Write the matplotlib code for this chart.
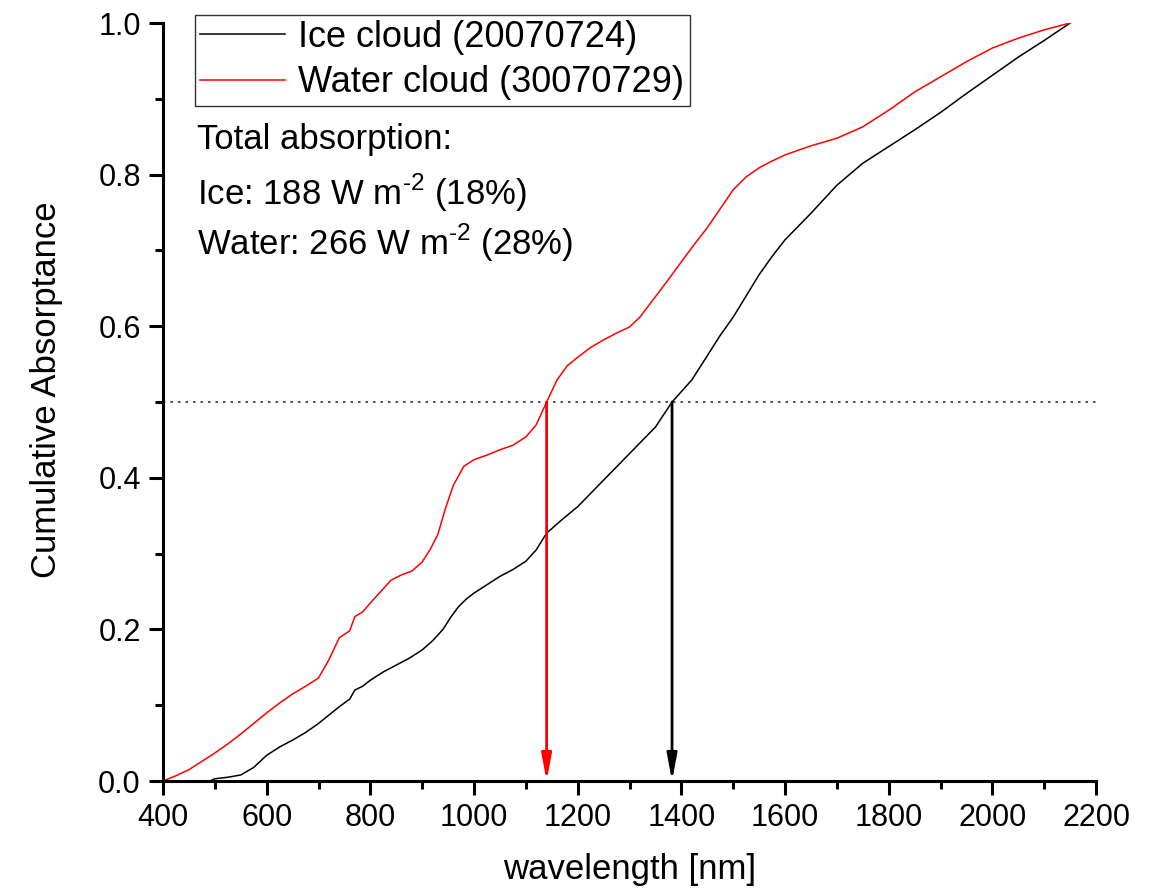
import numpy as np
import matplotlib
matplotlib.use("Agg")
from matplotlib import pyplot as plt
from matplotlib.ticker import MultipleLocator

plt.rcParams['font.family'] = ['Liberation Sans', 'DejaVu Sans']
plt.rcParams['mathtext.fontset'] = 'custom'
plt.rcParams['mathtext.rm'] = 'Liberation Sans'

# ice cloud (20070724)
ice_wl = [400, 450, 490, 500, 525, 550, 575, 600, 625, 650, 675, 700, 720, 740, 760,
          770, 785, 800, 825, 850, 875, 900, 920, 940, 955, 970, 985, 1000, 1025,
          1050, 1075, 1100, 1120, 1140, 1170, 1200, 1250, 1300, 1350, 1382, 1420,
          1449, 1475, 1500, 1525, 1550, 1575, 1600, 1650, 1700, 1750, 1800, 1850,
          1900, 1950, 2000, 2050, 2100, 2150]
ice_val = [0.0, 0.0, 0.0, 0.003, 0.005, 0.008, 0.018, 0.034, 0.045, 0.054, 0.064,
           0.076, 0.087, 0.098, 0.108, 0.12, 0.125, 0.133, 0.144, 0.153, 0.162,
           0.173, 0.185, 0.2, 0.216, 0.23, 0.24, 0.248, 0.259, 0.27, 0.279, 0.29,
           0.305, 0.327, 0.345, 0.362, 0.397, 0.432, 0.467, 0.5, 0.529, 0.56,
           0.588, 0.612, 0.64, 0.668, 0.692, 0.714, 0.749, 0.786, 0.815, 0.837,
           0.859, 0.882, 0.907, 0.931, 0.955, 0.977, 1.0]

# water cloud (30070729)
water_wl = [400, 425, 450, 475, 500, 525, 550, 575, 600, 625, 650, 675, 700, 720,
            740, 760, 770, 785, 800, 820, 840, 860, 880, 900, 915, 930, 945, 960,
            980, 1000, 1025, 1050, 1075, 1100, 1120, 1140, 1160, 1180, 1200, 1225,
            1250, 1275, 1300, 1320, 1340, 1370, 1400, 1425, 1450, 1475, 1500, 1525,
            1550, 1575, 1600, 1650, 1700, 1750, 1800, 1850, 1900, 1950, 2000, 2050,
            2100, 2150]
water_val = [0.0, 0.007, 0.015, 0.026, 0.037, 0.049, 0.062, 0.076, 0.09, 0.103,
             0.115, 0.125, 0.136, 0.16, 0.189, 0.198, 0.217, 0.223, 0.235, 0.25,
             0.265, 0.272, 0.277, 0.289, 0.305, 0.325, 0.36, 0.39, 0.415, 0.424,
             0.43, 0.437, 0.443, 0.454, 0.47, 0.5, 0.529, 0.548, 0.559, 0.572,
             0.582, 0.591, 0.599, 0.612, 0.63, 0.657, 0.685, 0.708, 0.73, 0.755,
             0.78, 0.797, 0.809, 0.818, 0.826, 0.838, 0.848, 0.863, 0.885, 0.909,
             0.929, 0.949, 0.967, 0.98, 0.991, 1.0]

half_level = 0.5
water_half = 1140
ice_half = 1382

fig = plt.figure(figsize=(11.53, 8.92), dpi=100)
ax = fig.add_axes([0.1414, 0.1244, 0.8092, 0.8498])

ax.plot(ice_wl, ice_val, color='black', lw=1.1, label='Ice cloud (20070724)')
ax.plot(water_wl, water_val, color='red', lw=1.1, label='Water cloud (30070729)')

ax.axhline(half_level, color='#333333', lw=1.2, ls=(0, (1.5, 3)))

for wl, c in [(water_half, 'red'), (ice_half, 'black')]:
    ax.annotate('', xy=(wl, 0), xytext=(wl, half_level),
                arrowprops=dict(arrowstyle='-|>,head_width=0.3,head_length=1.6',
                                color=c, lw=2, shrinkA=0, shrinkB=0))

ax.set_xlim(400, 2200)
ax.set_ylim(0, 1.0)
ax.xaxis.set_major_locator(MultipleLocator(200))
ax.xaxis.set_minor_locator(MultipleLocator(100))
ax.yaxis.set_major_locator(MultipleLocator(0.2))
ax.yaxis.set_minor_locator(MultipleLocator(0.1))
ax.yaxis.set_major_formatter(matplotlib.ticker.FormatStrFormatter('%.1f'))

for s in ['top', 'right']:
    ax.spines[s].set_visible(False)
for s in ['left', 'bottom']:
    ax.spines[s].set_linewidth(2.2)
ax.tick_params(which='major', direction='out', length=10, width=2.2, labelsize=22,
               pad=6)
ax.tick_params(which='minor', direction='out', length=6, width=2.2)

ax.set_xlabel('wavelength [nm]', fontsize=25, labelpad=14)
ax.set_ylabel('Cumulative Absorptance', fontsize=25)
ax.yaxis.set_label_coords(-0.107, 0.516)

leg = ax.legend(loc='upper left', bbox_to_anchor=(0.034, 1.011), fontsize=26,
                frameon=True, fancybox=False, edgecolor='black', handlelength=2.36,
                borderpad=0.15, labelspacing=0.28, handletextpad=0.36,
                borderaxespad=0)
leg.get_frame().set_linewidth(1)

ax.text(0.036, 0.846, 'Total absorption:', transform=ax.transAxes, fontsize=25,
        va='center')
ax.text(0.036, 0.776, r'Ice: 188 W m$^{\text{-2}}$ (18%)', transform=ax.transAxes,
        fontsize=25, va='center')
ax.text(0.036, 0.710, r'Water: 266 W m$^{\text{-2}}$ (28%)', transform=ax.transAxes,
        fontsize=25, va='center')

fig.savefig('out.png', dpi=100)
